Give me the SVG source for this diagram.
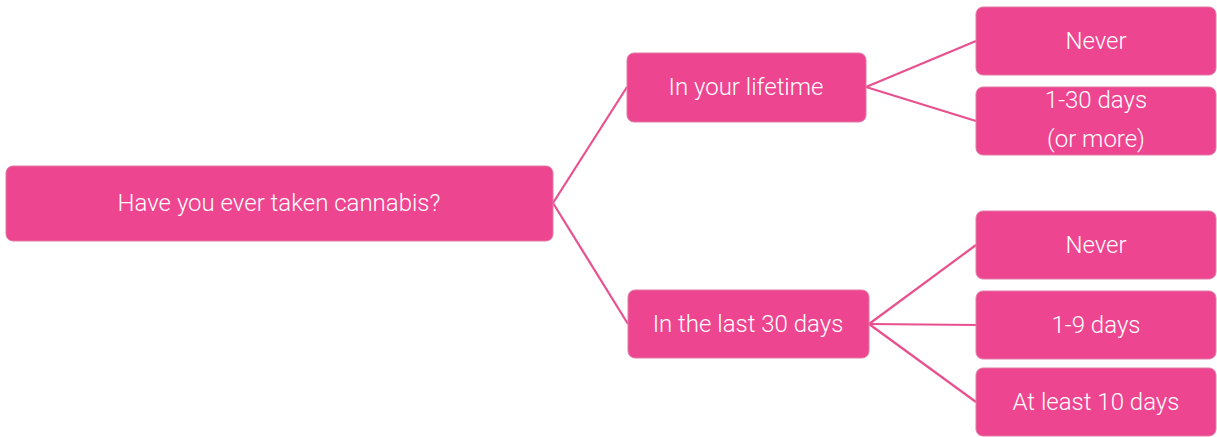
<svg xmlns="http://www.w3.org/2000/svg" width="1217" height="437" viewBox="0 0 1217 437">
<style>
.box{fill:#ee4590;stroke:#e07aa5;stroke-width:1}
.t{font-family:Roboto,"Open Sans",sans-serif;font-weight:300;font-size:24px;fill:#ffffff;text-anchor:middle}
.c{stroke:#e8508f;stroke-width:2.2;fill:none}
</style>
<rect width="1217" height="437" fill="#ffffff"/>
<g id="connectors">
<line class="c" x1="553" y1="203" x2="627" y2="87"/>
<line class="c" x1="553" y1="203" x2="628" y2="324"/>
<line class="c" x1="866" y1="87" x2="976" y2="41"/>
<line class="c" x1="866" y1="87" x2="976" y2="121"/>
<line class="c" x1="869" y1="324" x2="976" y2="245"/>
<line class="c" x1="869" y1="324" x2="976" y2="325"/>
<line class="c" x1="869" y1="324" x2="976" y2="402"/>
</g>
<g id="root"><rect class="box" x="6" y="166" width="547" height="75" rx="7"/><text class="t" x="279" y="211">Have you ever taken cannabis?</text></g>
<g id="lifetime"><rect class="box" x="627" y="53" width="239" height="69" rx="7"/><text class="t" x="746" y="95">In your lifetime</text></g>
<g id="last30"><rect class="box" x="628" y="290" width="241" height="68" rx="7"/><text class="t" x="748" y="332">In the last 30 days</text></g>
<g id="never1"><rect class="box" x="976" y="7" width="240" height="68" rx="7"/><text class="t" x="1096" y="49">Never</text></g>
<g id="days1_30"><rect class="box" x="976" y="87" width="240" height="68" rx="7"/><text class="t" x="1096" y="108">1-30 days</text><text class="t" x="1096" y="147">(or more)</text></g>
<g id="never2"><rect class="box" x="976" y="211" width="240" height="68" rx="7"/><text class="t" x="1096" y="253">Never</text></g>
<g id="days1_9"><rect class="box" x="976" y="291" width="240" height="68" rx="7"/><text class="t" x="1096" y="333">1-9 days</text></g>
<g id="days10"><rect class="box" x="976" y="368" width="240" height="68" rx="7"/><text class="t" x="1096" y="410">At least 10 days</text></g>
</svg>
